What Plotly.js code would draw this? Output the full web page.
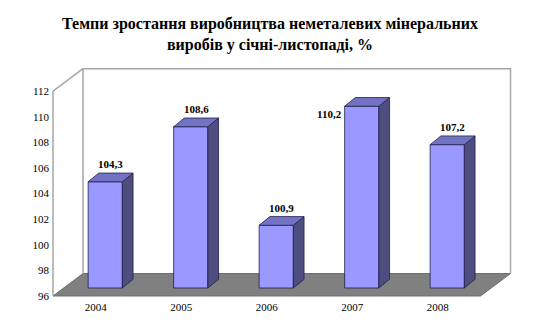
<!DOCTYPE html>
<html>
<head>
<meta charset="utf-8">
<script src="https://cdn.plot.ly/plotly-3.0.1.min.js"></script>
<style>html,body{margin:0;padding:0;background:#fff;}#chart{width:540px;height:326px;}</style>
</head>
<body>
<div id="chart"></div>
<script>
// ---- data ----
const years = ['2004', '2005', '2006', '2007', '2008'];
const values = [104.3, 108.6, 100.9, 110.2, 107.2];
const valueLabels = ['104,3', '108,6', '100,9', '110,2', '107,2'];
const yTickVals = [96, 98, 100, 102, 104, 106, 108, 110, 112];
const titleText = 'Темпи зростання виробництва неметалевих мінеральних<br>виробів у січні-листопаді, %';

// ---- geometry (in axis units) ----
const FONT = '"Liberation Serif", "DejaVu Serif", serif';
const yMin = 96, yMax = 112;
const pxX = 85.5, pxY = 12.8;          // pixels per unit
const floorDX = 30 / pxX, floorDY = 22.5 / pxY;   // depth of floor / walls
const barOX = 9.5 / pxX, barOY = 8 / pxY;          // bar plane offset
const barHW = 17.1 / pxX;                          // half bar width
const depDX = 10.7 / pxX, depDY = 8.7 / pxY;       // bar depth
const n = years.length;

const ml = 50, mr = 28, mt = 66, mb = 27;
const W = 540, H = 326;
const xr0 = -0.5 - 3 / pxX;
const xr1 = xr0 + (W - ml - mr) / pxX;
const yr0 = yMin - 3 / pxY;
const yr1 = yr0 + (H - mt - mb) / pxY;

function path(pts) {
  return 'M' + pts.map(p => p[0] + ',' + p[1]).join(' L') + ' Z';
}
function line(pts) {
  return 'M' + pts.map(p => p[0] + ',' + p[1]).join(' L');
}

const shapes = [];
const wallColor = '#a6a6a6';
const xl = -0.5, xrgt = n - 0.5;
// floor
shapes.push({type: 'path', xref: 'x', yref: 'y', layer: 'below',
  path: path([[xl, yMin], [xrgt, yMin], [xrgt + floorDX, yMin + floorDY], [xl + floorDX, yMin + floorDY]]),
  fillcolor: '#808080', line: {color: '#6e6e6e', width: 1}});
// back wall lines
shapes.push({type: 'path', xref: 'x', yref: 'y', layer: 'below',
  path: line([[xl + floorDX, yMin + floorDY], [xl + floorDX, yMax + floorDY], [xrgt + floorDX, yMax + floorDY], [xrgt + floorDX, yMin + floorDY]]),
  line: {color: wallColor, width: 1.5}});
// left wall: axis line + diagonal
shapes.push({type: 'path', xref: 'x', yref: 'y', layer: 'below',
  path: line([[xl, yMin], [xl, yMax], [xl + floorDX, yMax + floorDY]]),
  line: {color: wallColor, width: 1.5}});

const edge = {color: '#1f1f4d', width: 0.8};
const annotations = [];
values.forEach((v, i) => {
  const x0 = i + barOX - barHW, x1 = i + barOX + barHW;
  const b = yMin + barOY, t = v + barOY;
  // front
  shapes.push({type: 'path', xref: 'x', yref: 'y',
    path: path([[x0, b], [x1, b], [x1, t], [x0, t]]), fillcolor: '#9999ff', line: edge});
  // side
  shapes.push({type: 'path', xref: 'x', yref: 'y',
    path: path([[x1, b], [x1 + depDX, b + depDY], [x1 + depDX, t + depDY], [x1, t]]), fillcolor: '#4d4d80', line: edge});
  // top
  shapes.push({type: 'path', xref: 'x', yref: 'y',
    path: path([[x0, t], [x1, t], [x1 + depDX, t + depDY], [x0 + depDX, t + depDY]]), fillcolor: '#7373c4', line: edge});
  // label
  const topBack = t + depDY;
  if (topBack + 14 / pxY > yMax) {
    annotations.push({x: x0, y: t, xref: 'x', yref: 'y', text: valueLabels[i], showarrow: false,
      xanchor: 'right', yanchor: 'middle', xshift: -1, yshift: -8,
      font: {family: FONT, size: 11, color: '#000'}});
  } else {
    annotations.push({x: i + barOX + depDX / 2, y: topBack, xref: 'x', yref: 'y', text: valueLabels[i], showarrow: false,
      xanchor: 'center', yanchor: 'bottom', yshift: 1,
      font: {family: FONT, size: 11, color: '#000'}});
  }
});
annotations.forEach(a => { a.text = '<b>' + a.text + '</b>'; });

const layout = {
  width: W, height: H,
  margin: {l: ml, r: mr, t: mt, b: mb, pad: 0},
  paper_bgcolor: '#ffffff', plot_bgcolor: 'rgba(0,0,0,0)',
  showlegend: false,
  title: {text: '<b>' + titleText + '</b>', x: 0.5, xanchor: 'center', xref: 'container',
    y: 1 - 29 / H, yref: 'container', yanchor: 'middle',
    font: {family: FONT, size: 16, color: '#000'}},
  xaxis: {range: [xr0, xr1], tickmode: 'array', tickvals: years.map((_, i) => i), ticktext: years,
    showgrid: false, zeroline: false, showline: false, ticks: '', fixedrange: true,
    tickfont: {family: FONT, size: 11, color: '#000'}},
  yaxis: {range: [yr0, yr1], tickmode: 'array', tickvals: yTickVals, ticktext: yTickVals.map(String),
    showgrid: false, zeroline: false, showline: false, ticks: '', fixedrange: true,
    tickfont: {family: FONT, size: 11, color: '#000'}},
  shapes: shapes,
  annotations: annotations
};

Plotly.newPlot('chart', [{x: [0], y: [yMin], type: 'scatter', mode: 'markers', marker: {opacity: 0}, hoverinfo: 'skip'}], layout, {displayModeBar: false, staticPlot: true});
</script>
</body>
</html>
